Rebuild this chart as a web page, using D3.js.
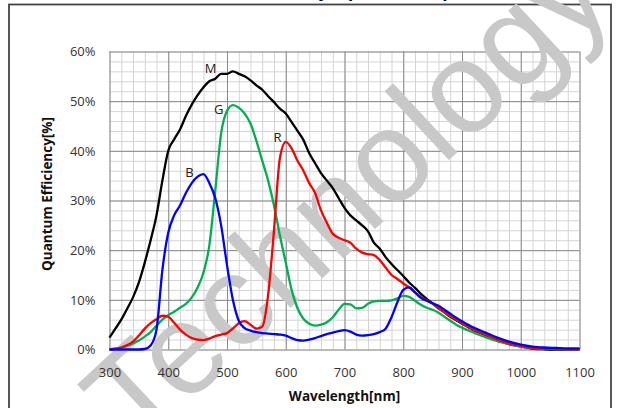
<!DOCTYPE html>
<meta charset="utf-8">
<title>Quantum Efficiency</title>
<body style="margin:0;background:#fff;"></body>
<script src="https://d3js.org/d3.v7.min.js"></script>
<div id="chart"></div>
<script>
// wavelength steps (nm) shared by all curves
const wl = [300,310,320,330,340,350,360,370,380,390,400,410,420,430,440,450,460,470,480,490,
  500,510,520,530,540,550,560,570,580,590,600,610,620,630,640,650,660,670,680,690,
  700,710,720,730,740,750,760,770,780,790,800,810,820,830,840,850,860,870,880,890,
  900,920,940,960,980,1000,1020,1040,1060,1080,1100];

// quantum efficiency in %
const mono = [2.4,4.2,6,8.2,10.5,13.5,17.5,22,27,34,40,42.3,44.3,47,49.3,51.2,52.8,54,54.5,55.5,
  55.5,56,55.5,55,54.2,53.2,52.3,51,49.8,48.5,47.5,45.8,44,42.2,39.5,37.5,35.5,34,32.5,30.5,
  28.5,27,26,25,23.8,21.5,20.3,18.6,17.2,16,14.8,13.5,12.4,11.2,10.2,9.3,8.3,7.5,6.6,5.9,
  5.2,3.9,2.9,1.9,1.1,0.6,0.2,0.05,0,0,0];
const green = [0,0.2,0.4,0.7,1.2,1.8,2.6,3.5,4.8,6,6.9,7.6,8.4,9.2,10.5,12.5,15.5,21,32,43.5,
  48,49.2,48.7,47.5,45.5,42,38,34,29,23,17.5,12,8.3,6.2,5.2,4.8,5,5.5,6.5,8,
  9.2,9.1,8.3,8.4,9.2,9.7,9.8,9.8,9.9,10.3,10.8,10.6,9.8,9,8.4,8,7.4,6.6,5.8,5,
  4.4,3.4,2.5,1.7,1.1,0.6,0.3,0.15,0.1,0.05,0.05];
const red = [0,0.1,0.4,0.9,1.6,2.8,4.2,5.3,6.1,6.8,6.6,5.4,4,3,2.3,2,1.9,2.2,2.7,3,
  3.3,4.2,5.3,5.7,5,4.2,4.6,11,24,38.5,41.8,40.5,38,36,33.5,31.5,28,25.5,23.3,22.5,
  22,21.5,20.3,19.5,19.2,19,18,16.5,15,14.2,13.3,12.5,11.5,10.6,9.9,9.2,8.4,7.5,6.7,6,
  5.3,4,3,2,1.2,0.7,0.3,0.15,0.1,0.05,0.05];
const blue = [0,0,0,0,0,0,0.1,0.8,4,16,23.5,27,29,31.5,33.5,34.8,35.3,33.5,30.5,25,
  17,10,5.8,4.3,3.8,3.5,3.3,3.2,3.1,3,2.8,2.3,1.9,1.8,2,2.3,2.7,3.1,3.4,3.7,
  3.9,3.6,3,2.8,2.9,3.1,3.5,4.2,6.5,9.5,12,12.5,11.5,10.4,9.8,9.3,8.8,8,7.2,6.4,
  5.7,4.4,3.4,2.4,1.6,1,0.6,0.4,0.3,0.2,0.2];

const seriesNames = ["M","G","R","B"];
const seriesColors = ["#000000","#00b050","#ff0000","#0000ff"];
// label anchor points [nm, %]
const labelX = [472,486,586,436];
const labelY = [56.6,48.5,42.7,35.8];

const xTicks = [300,400,500,600,700,800,900,1000,1100];
const yTicks = [0,10,20,30,40,50,60];

const W = 622, H = 408;
const svg = d3.select("#chart").append("svg")
  .attr("width", W).attr("height", H)
  .style("display","block");

const x = d3.scaleLinear().domain([300,1100]).range([109.5,579.5]);
const y = d3.scaleLinear().domain([0,60]).range([349.5,51.5]);

// outer frame
svg.append("rect")
  .attr("x", 9).attr("y", 4.5).attr("width", 602).attr("height", 420)
  .attr("fill","none").attr("stroke","#444").attr("stroke-width",1.8);

// title, mostly cut off at the top edge
svg.append("text")
  .attr("x", 330).attr("y", -3)
  .attr("text-anchor","middle")
  .style("font-family","'Open Sans', sans-serif")
  .style("font-weight","bold").style("font-size","17px")
  .text("Quantum Efficiency (Spectral Response)");

// minor grid
svg.append("g")
  .attr("transform", `translate(0,${y(0)})`)
  .call(d3.axisBottom(x).tickValues(d3.range(300,1101,20)).tickSize(y(60)-y(0)).tickFormat(""))
  .call(g => g.select(".domain").remove())
  .call(g => g.selectAll("line").attr("stroke","#d4d4d4"));
svg.append("g")
  .attr("transform", `translate(${x(300)},0)`)
  .call(d3.axisLeft(y).tickValues(d3.range(0,61,2)).tickSize(x(300)-x(1100)).tickFormat(""))
  .call(g => g.select(".domain").remove())
  .call(g => g.selectAll("line").attr("stroke","#d4d4d4"));

// major grid
svg.append("g")
  .attr("transform", `translate(0,${y(0)})`)
  .call(d3.axisBottom(x).tickValues(xTicks).tickSize(y(60)-y(0)).tickFormat(""))
  .call(g => g.select(".domain").remove())
  .call(g => g.selectAll("line").attr("stroke","#8a8a8a"));
svg.append("g")
  .attr("transform", `translate(${x(300)},0)`)
  .call(d3.axisLeft(y).tickValues(yTicks).tickSize(x(300)-x(1100)).tickFormat(""))
  .call(g => g.select(".domain").remove())
  .call(g => g.selectAll("line").attr("stroke","#8a8a8a"));

// watermark
svg.append("text")
  .attr("transform","translate(136,452) rotate(-43)")
  .style("font-family","'Liberation Sans', Arial, sans-serif")
  .style("font-size","130px")
  .attr("fill","#c8c8c8")
  .text("Technology");

// axes labels
svg.append("g")
  .attr("transform", `translate(0,${y(0)})`)
  .call(d3.axisBottom(x).tickValues(xTicks).tickSize(0).tickPadding(18).tickFormat(d3.format("d")))
  .call(g => g.select(".domain").remove())
  .call(g => g.selectAll("text")
    .style("font-family","'Open Sans', sans-serif").style("font-size","13px").attr("fill","#333"));
svg.append("g")
  .attr("transform", `translate(${x(300)},0)`)
  .call(d3.axisLeft(y).tickValues(yTicks).tickSize(0).tickPadding(14).tickFormat(d => d + "%"))
  .call(g => g.select(".domain").remove())
  .call(g => g.selectAll("text")
    .style("font-family","'Open Sans', sans-serif").style("font-size","13px").attr("fill","#333"));

svg.append("text")
  .attr("x", 344.5).attr("y", 401)
  .attr("text-anchor","middle")
  .style("font-family","'Open Sans', sans-serif").style("font-weight","bold").style("font-size","13.5px")
  .attr("fill","#111")
  .text("Wavelength[nm]");
svg.append("text")
  .attr("transform","translate(52,194) rotate(-90)")
  .attr("text-anchor","middle")
  .style("font-family","'Open Sans', sans-serif").style("font-weight","bold").style("font-size","13.5px")
  .attr("fill","#111")
  .text("Quantum Efficiency[%]");

// curves
const allSeries = [mono, green, red, blue];
const line = d3.line()
  .x((d,i) => x(wl[i]))
  .y(d => y(d))
  .curve(d3.curveMonotoneX);

svg.append("g").selectAll("path")
  .data(allSeries)
  .join("path")
    .attr("d", d => line(d))
    .attr("fill","none")
    .attr("stroke", (d,i) => seriesColors[i])
    .attr("stroke-width", 2.3)
    .attr("stroke-linejoin","round");

svg.append("g").selectAll("text")
  .data(seriesNames)
  .join("text")
    .attr("x", (d,i) => x(labelX[i]))
    .attr("y", (d,i) => y(labelY[i]))
    .attr("text-anchor","middle")
    .attr("dominant-baseline","central")
    .style("font-family","'Open Sans', sans-serif").style("font-size","13px")
    .attr("fill","#222")
    .text(d => d);
</script>
